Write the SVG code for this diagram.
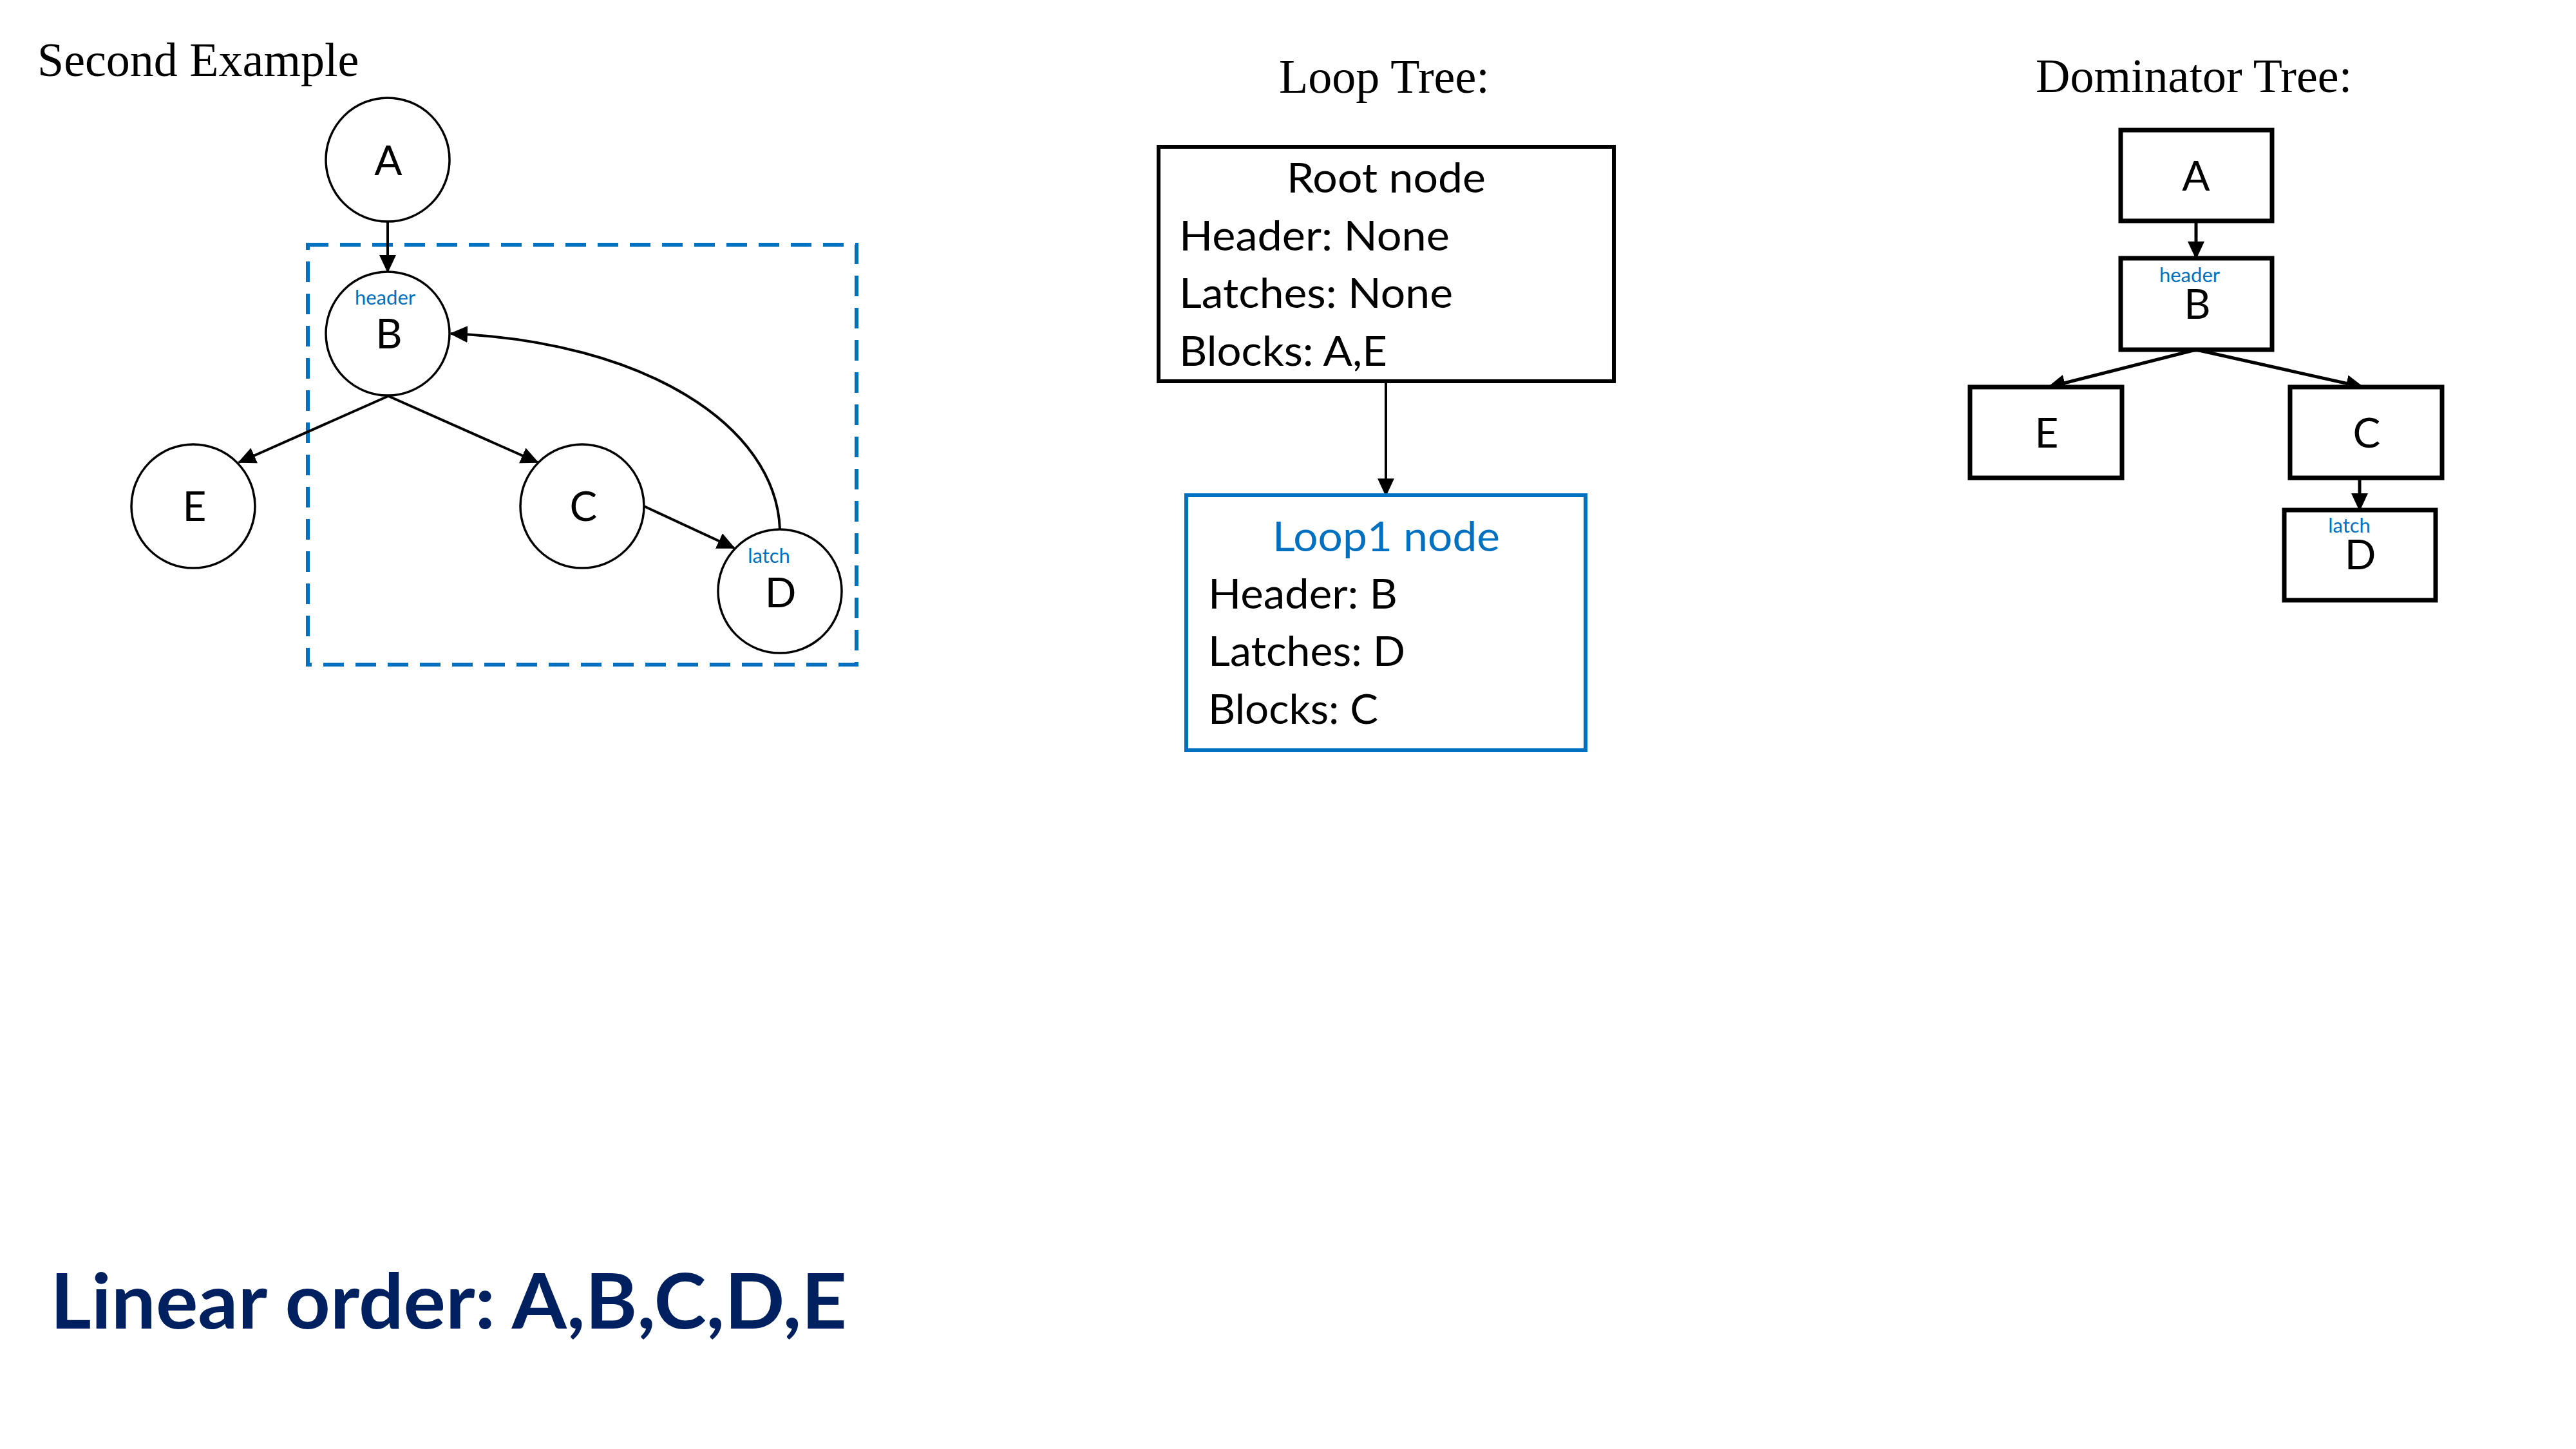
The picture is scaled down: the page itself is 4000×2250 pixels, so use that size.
<svg xmlns="http://www.w3.org/2000/svg" width="4000" height="2250" viewBox="0 0 4000 2250">
<style>
.bg{fill:#ffffff}
.title{font-family:"Liberation Serif","Times New Roman",serif;font-size:74px;fill:#000}
.lbl{font-family:Lato,"Open Sans",sans-serif;font-size:64px;fill:#000;text-anchor:middle}
.box{font-family:Lato,"Open Sans",sans-serif;font-size:64px;fill:#000}
.tag{font-family:Lato,"Open Sans",sans-serif;font-size:31px;fill:#0070C0;text-anchor:middle}
.circ{fill:#fff;stroke:#000;stroke-width:3.5}
.rbox{fill:#fff;stroke:#000;stroke-width:6}
.bbox{fill:#fff;stroke:#0070C0;stroke-width:6}
.dbox{fill:#fff;stroke:#000;stroke-width:7}
.edge{fill:none;stroke:#000;stroke-width:4;marker-end:url(#arr)}
.edge2{fill:none;stroke:#000;stroke-width:5;marker-end:url(#arr)}
.loop{fill:none;stroke:#0070C0;stroke-width:6;stroke-dasharray:32 18}
.order{font-family:Lato,"Open Sans",sans-serif;font-weight:bold;font-size:118px;fill:#002060}
</style>
<defs>
<marker id="arr" markerUnits="userSpaceOnUse" markerWidth="28" markerHeight="26" viewBox="0 0 28 26" refX="26" refY="13" orient="auto">
<path d="M0,0 L28,13 L0,26 z" fill="#000"/>
</marker>
</defs>
<rect class="bg" x="0" y="0" width="4000" height="2250"/>

<text class="title" x="58" y="118">Second Example</text>
<text class="title" x="1986" y="144">Loop Tree:</text>
<text class="title" x="3161" y="143">Dominator Tree:</text>

<g id="loop-region">
<rect class="loop" x="478" y="380" width="852" height="652"/>
</g>

<g id="connectors">
<line class="edge" x1="602" y1="344" x2="602" y2="422"/>
<line class="edge" x1="603" y1="615" x2="371" y2="718"/>
<line class="edge" x1="603" y1="615" x2="835" y2="718"/>
<line class="edge" x1="1000" y1="786" x2="1140" y2="851"/>
<path class="edge" d="M1211,822 C1205,660 1000,530 700,518"/>
<line class="edge" x1="2152" y1="595" x2="2152" y2="769"/>
<line class="edge2" x1="3410" y1="343" x2="3410" y2="401"/>
<line class="edge2" x1="3410" y1="543" x2="3181" y2="601"/>
<line class="edge2" x1="3410" y1="543" x2="3669" y2="601"/>
<line class="edge2" x1="3664" y1="742" x2="3664" y2="792"/>
</g>

<g id="cfg-A">
<circle class="circ" cx="602" cy="248" r="96"/>
<text class="lbl" x="603" y="272">A</text>
</g>
<g id="cfg-B">
<circle class="circ" cx="602" cy="518" r="96"/>
<text class="tag" x="598" y="473">header</text>
<text class="lbl" x="604" y="541">B</text>
</g>
<g id="cfg-E">
<circle class="circ" cx="300" cy="786" r="96"/>
<text class="lbl" x="302" y="809">E</text>
</g>
<g id="cfg-C">
<circle class="circ" cx="904" cy="786" r="96"/>
<text class="lbl" x="906" y="809">C</text>
</g>
<g id="cfg-D">
<circle class="circ" cx="1211" cy="918" r="96"/>
<text class="tag" x="1194" y="874">latch</text>
<text class="lbl" x="1212" y="943">D</text>
</g>

<g id="loop-root">
<rect class="rbox" x="1799" y="228" width="707" height="364"/>
<text class="box" x="1998" y="299" textLength="309" lengthAdjust="spacingAndGlyphs">Root node</text>
<text class="box" x="1831" y="389" textLength="420" lengthAdjust="spacingAndGlyphs">Header: None</text>
<text class="box" x="1831" y="478" textLength="425" lengthAdjust="spacingAndGlyphs">Latches: None</text>
<text class="box" x="1831" y="568" textLength="323" lengthAdjust="spacingAndGlyphs">Blocks: A,E</text>
</g>
<g id="loop-1">
<rect class="bbox" x="1842" y="769" width="620" height="396"/>
<text class="box" x="1976" y="856" textLength="353" lengthAdjust="spacingAndGlyphs" style="fill:#0070C0">Loop1 node</text>
<text class="box" x="1876" y="945" textLength="294" lengthAdjust="spacingAndGlyphs">Header: B</text>
<text class="box" x="1876" y="1034" textLength="306" lengthAdjust="spacingAndGlyphs">Latches: D</text>
<text class="box" x="1876" y="1124" textLength="264" lengthAdjust="spacingAndGlyphs">Blocks: C</text>
</g>

<g id="dom-A">
<rect class="dbox" x="3293" y="202" width="235" height="141"/>
<text class="lbl" x="3410" y="296">A</text>
</g>
<g id="dom-B">
<rect class="dbox" x="3293" y="401" width="235" height="142"/>
<text class="tag" x="3400" y="438">header</text>
<text class="lbl" x="3412" y="495">B</text>
</g>
<g id="dom-E">
<rect class="dbox" x="3059" y="601" width="236" height="141"/>
<text class="lbl" x="3178" y="695">E</text>
</g>
<g id="dom-C">
<rect class="dbox" x="3556" y="601" width="236" height="141"/>
<text class="lbl" x="3675" y="695">C</text>
</g>
<g id="dom-D">
<rect class="dbox" x="3547" y="792" width="235" height="140"/>
<text class="tag" x="3648" y="827">latch</text>
<text class="lbl" x="3665" y="884">D</text>
</g>

<text class="order" x="78" y="2063" textLength="1237" lengthAdjust="spacingAndGlyphs">Linear order: A,B,C,D,E</text>
</svg>
